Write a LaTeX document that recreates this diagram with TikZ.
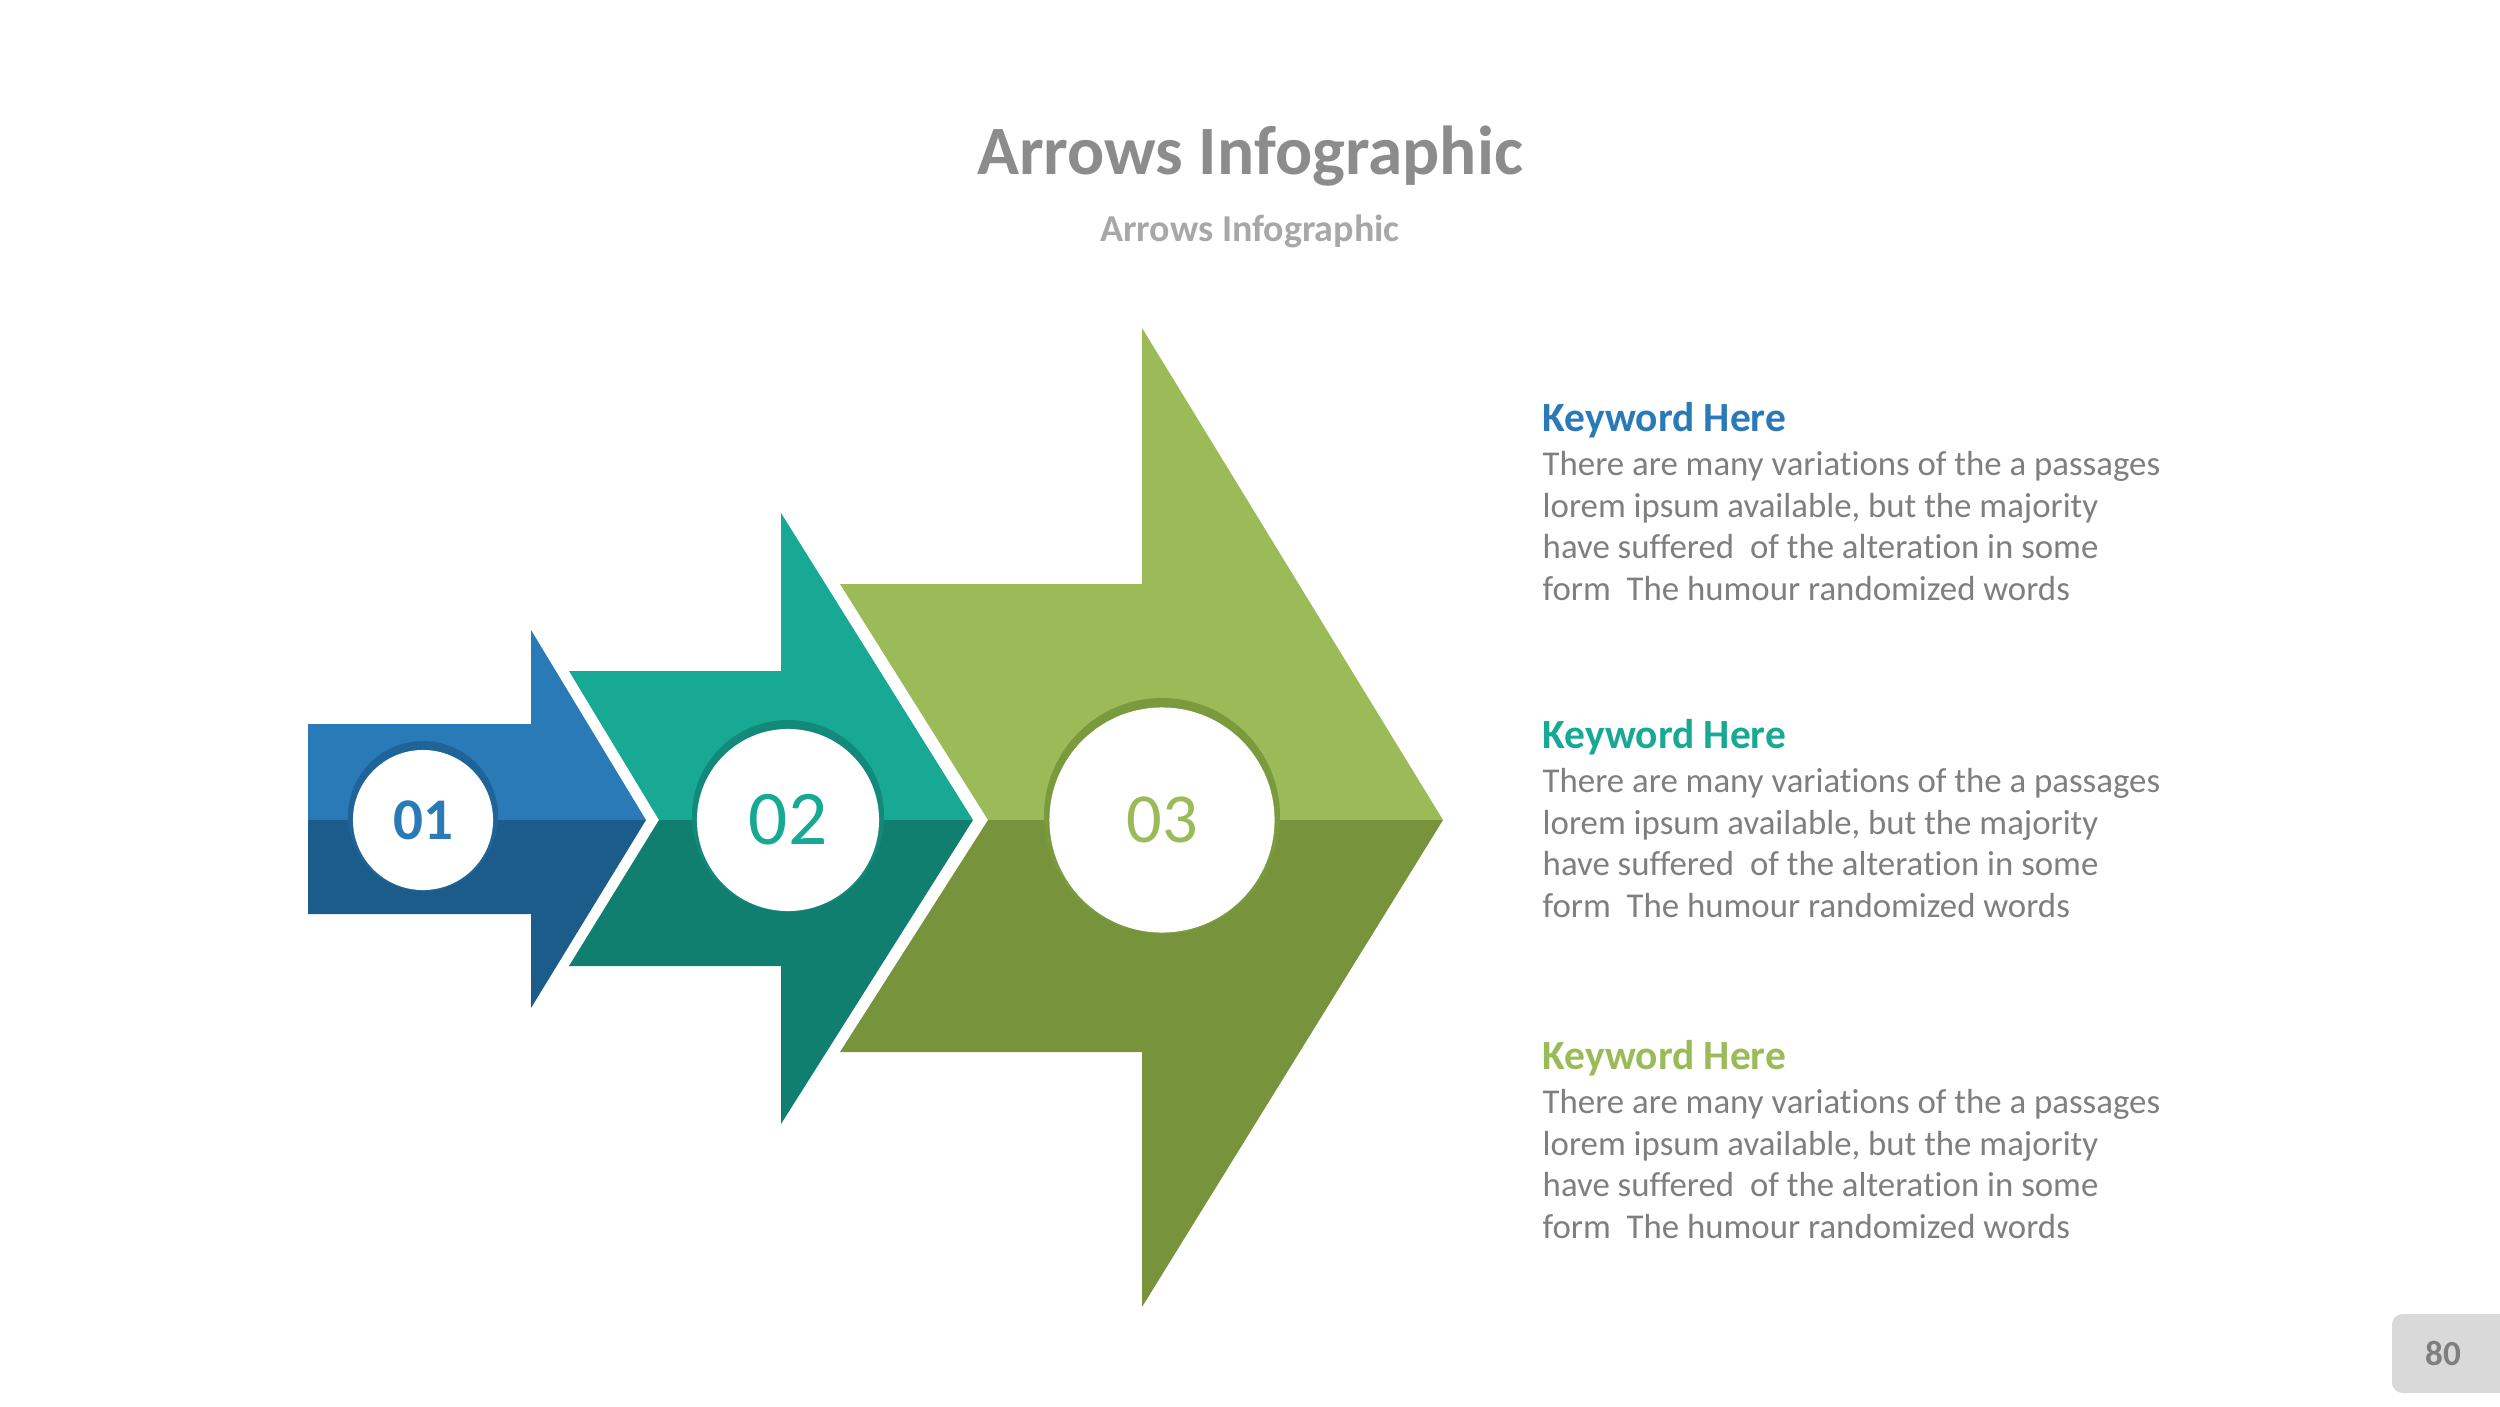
\documentclass[tikz,border=0pt]{standalone}
\usepackage{fontspec}
\setmainfont{Carlito}[Ligatures=NoCommon]
\usetikzlibrary{positioning}
\definecolor{blueup}{HTML}{2A7AB8}
\definecolor{bluelow}{HTML}{1C5C8A}
\definecolor{bluering}{HTML}{1F6499}
\definecolor{tealup}{HTML}{17A993}
\definecolor{teallow}{HTML}{117F70}
\definecolor{tealring}{HTML}{13897A}
\definecolor{greenup}{HTML}{9BBB59}
\definecolor{greenlow}{HTML}{77933C}
\definecolor{greenring}{HTML}{7A9A3E}
\definecolor{titlegray}{HTML}{8C8C8C}
\definecolor{subgray}{HTML}{A8A8A8}
\definecolor{bodygray}{HTML}{7F7F7F}
\definecolor{pagegray}{HTML}{D9D9D9}
\tikzset{num node/.style={circle,fill=white,inner sep=0pt},
         key node/.style={anchor=base west,inner sep=0pt,font=\bfseries\fontsize{11.8}{14}\selectfont},
         body node/.style={anchor=north west,align=left,inner sep=0pt,text=bodygray,font=\fontsize{9.9}{11.86}\selectfont},
            }

\begin{document}
\begin{tikzpicture}[x=0.01cm,y=-0.01cm]
    \useasboundingbox[fill=white] (0,0) rectangle (2500,1406);

    % title
    \node (title) at (1250,156) [text=titlegray,font=\bfseries\fontsize{19.7}{22}\selectfont] {Arrows Infographic};
    \node (subtitle) at (1250,231) [text=subgray,font=\bfseries\fontsize{10.8}{12}\selectfont] {Arrows Infographic};

    % arrow 1
    \fill[blueup] (308,724) -- (531,724) -- (531,630) -- (646,820) -- (308,820) -- cycle;
    \fill[bluelow] (308,820) -- (646,820) -- (531,1008) -- (531,914) -- (308,914) -- cycle;
    % arrow 2
    \fill[tealup] (569,671) -- (781,671) -- (781,513) -- (973,820) -- (659,820) -- cycle;
    \fill[teallow] (659,820) -- (973,820) -- (781,1124) -- (781,966) -- (569,966) -- cycle;
    % arrow 3
    \fill[greenup] (840,584) -- (1142,584) -- (1142,328) -- (1443,820) -- (988,820) -- cycle;
    \fill[greenlow] (988,820) -- (1443,820) -- (1142,1307) -- (1142,1052) -- (840,1052) -- cycle;

    % circles
    \fill[bluering] (423,816) circle (75);
    \node[num node,minimum size=1.4cm,text=blueup,font=\bfseries\fontsize{16.8}{18}\selectfont] (n1) at (423,820) {01};
    \fill[tealring] (788,816) circle (96);
    \node[num node,minimum size=1.82cm,text=tealup,font=\fontsize{22}{24}\selectfont] (n2) at (788,820) {02};
    \fill[greenring] (1162,816) circle (118);
    \node[num node,minimum size=2.25cm,text=greenup,font=\fontsize{20}{22}\selectfont] (n3) at (1162,820) {03};

    % texts
    \node[key node,text=blueup] (kw1) at (1542,431) {Keyword Here};
    \node[body node] (txt1) [below right=3.5pt and 0pt of kw1.south west] {There are many variations of the a passages\\lorem ipsum available, but the majority\\have suffered~ of the alteration in some\\form~ The humour randomized words};
    \node[key node,text=tealup] (kw2) at (1542,748) {Keyword Here};
    \node[body node] (txt2) [below right=3.5pt and 0pt of kw2.south west] {There are many variations of the a passages\\lorem ipsum available, but the majority\\have suffered~ of the alteration in some\\form~ The humour randomized words};
    \node[key node,text=greenup] (kw3) at (1542,1069) {Keyword Here};
    \node[body node] (txt3) [below right=3.5pt and 0pt of kw3.south west] {There are many variations of the a passages\\lorem ipsum available, but the majority\\have suffered~ of the alteration in some\\form~ The humour randomized words};

    % page number
    \fill[pagegray,rounded corners=3pt] (2392,1314) rectangle (2540,1393);
    \node (pagenum) at (2443,1353) [text=bodygray,font=\bfseries\fontsize{10}{12}\selectfont] {80};
\end{tikzpicture}
\end{document}
